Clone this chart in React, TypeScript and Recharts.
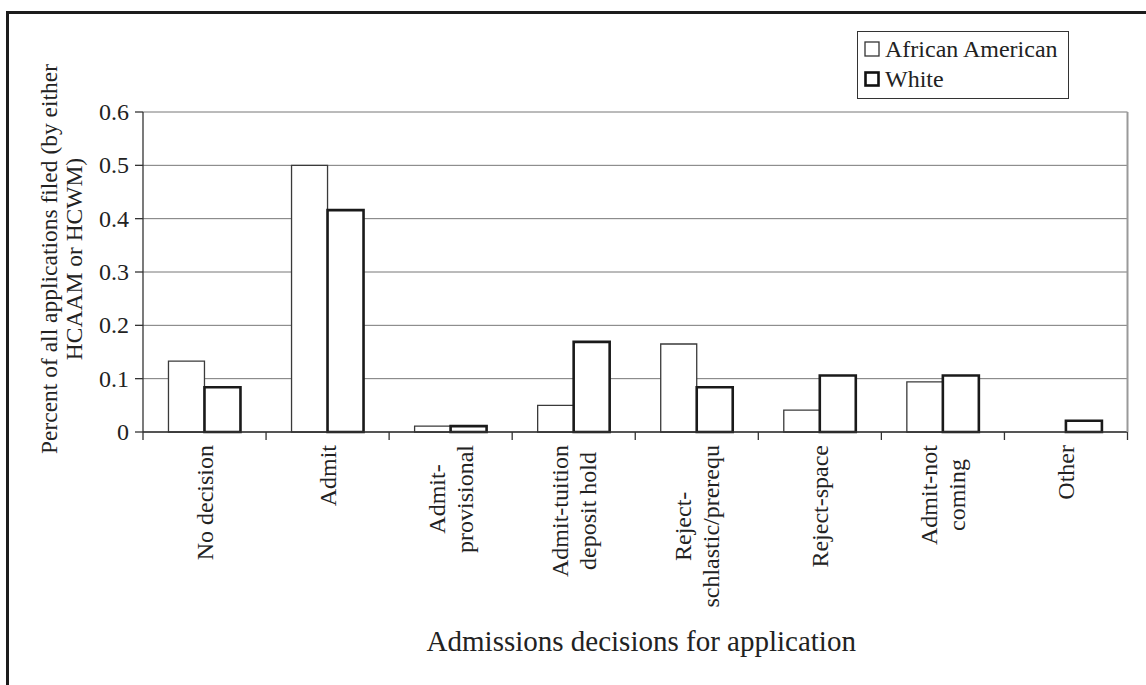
import React from 'react';
import { BarChart, Bar, XAxis, YAxis, CartesianGrid, Legend } from 'recharts';

// decision categories ("\n" = line break in the tick label)
const categories = [
  'No decision',
  'Admit',
  'Admit-\nprovisional',
  'Admit-tuition\ndeposit hold',
  'Reject-\nschlastic/prerequ',
  'Reject-space',
  'Admit-not\ncoming',
  'Other',
];
const africanAmerican = [0.133, 0.5, 0.011, 0.05, 0.165, 0.041, 0.094, 0];
const white = [0.084, 0.416, 0.011, 0.169, 0.084, 0.106, 0.106, 0.021];
const yTicks = [0, 0.1, 0.2, 0.3, 0.4, 0.5, 0.6];
const yTitle = ['Percent of all applications filed (by either', 'HCAAM or HCWM)'];
const xTitle = 'Admissions decisions for application';

const FONT = '"Liberation Serif", "Times New Roman", serif';
const INK = '#222';

const data = categories.map((name, i) => ({
  name,
  aa: africanAmerican[i],
  white: white[i],
}));

let ctx: CanvasRenderingContext2D | null = null;
const textWidth = (s: string, size: number) => {
  if (!ctx) ctx = document.createElement('canvas').getContext('2d');
  if (!ctx) return s.length * size * 0.45;
  ctx.font = `${size}px ${FONT}`;
  return ctx.measureText(s).width;
};

const serif = (size: number) => ({ fontFamily: FONT, fontSize: size });

// rotated, centred multi-line label with a tick mark at each category boundary
const CategoryTick = (props: any) => {
  const { x, y, payload, index, visibleTicksCount } = props;
  const half = payload.offset || 61.5;
  const lines: string[] = String(payload.value).split('\n');
  const size = 24;
  const lh = 28;
  const maxW = Math.max(...lines.map((l) => textWidth(l, size)));
  const cy = y + 13 + maxW / 2;
  const last = index === (visibleTicksCount ?? categories.length) - 1;
  return (
    <g>
      <line x1={x - half} x2={x - half} y1={y} y2={y + 8} stroke="#333" strokeWidth={1.3} />
      {last && <line x1={x + half} x2={x + half} y1={y} y2={y + 8} stroke="#333" strokeWidth={1.3} />}
      {lines.map((l, i) => {
        const bx = x + (i - (lines.length - 1) / 2) * lh + 8;
        return (
          <text
            key={i}
            x={bx}
            y={cy}
            transform={`rotate(-90, ${bx}, ${cy})`}
            textAnchor="middle"
            style={serif(size)}
            fill={INK}
          >
            {l}
          </text>
        );
      })}
    </g>
  );
};

const YTick = (props: any) => {
  const { x, y, payload } = props;
  const v = Number(payload.value);
  return (
    <text x={x} y={y + 8} textAnchor="end" style={serif(24)} fill={INK}>
      {v === 0 ? '0' : v.toFixed(1)}
    </text>
  );
};

const YTitle = () => {
  const cy = 259;
  return (
    <g>
      {yTitle.map((l, i) => {
        const bx = 57 + i * 25;
        return (
          <text
            key={i}
            x={bx}
            y={cy}
            transform={`rotate(-90, ${bx}, ${cy})`}
            textAnchor="middle"
            style={serif(23.5)}
            fill={INK}
          >
            {l}
          </text>
        );
      })}
    </g>
  );
};

const XTitle = (props: any) => {
  const vb = props.viewBox || { x: 143, width: 984 };
  return (
    <text x={vb.x + vb.width / 2 + 6} y={651} textAnchor="middle" style={serif(29)} fill={INK}>
      {xTitle}
    </text>
  );
};

const LegendBox = () => (
  <div
    style={{
      border: '1px solid #333',
      background: '#fff',
      padding: '2px 8px 4px 6px',
      fontFamily: FONT,
      fontSize: 24,
      color: INK,
      lineHeight: '30px',
    }}
  >
    <div style={{ display: 'flex', alignItems: 'center' }}>
      <svg width={16} height={16} style={{ marginRight: 5 }}>
        <rect x={1} y={1} width={14} height={14} fill="#fff" stroke="#333" strokeWidth={1.3} />
      </svg>
      African American
    </div>
    <div style={{ display: 'flex', alignItems: 'center' }}>
      <svg width={16} height={16} style={{ marginRight: 5 }}>
        <rect x={1.5} y={1.5} width={13} height={13} fill="#fff" stroke="#111" strokeWidth={2.6} />
      </svg>
      White
    </div>
  </div>
);

export default function App() {
  return (
    <div
      style={{
        position: 'absolute',
        left: 0,
        top: 0,
        width: 1146,
        height: 685,
        overflow: 'hidden',
        background: '#fff',
        fontFamily: FONT,
      }}
    >
      <div
        style={{
          position: 'absolute',
          left: 6,
          top: 11,
          width: 1300,
          height: 900,
          border: '3px solid #1c1c1c',
        }}
      />
      <div style={{ position: 'absolute', left: 0, top: 0 }}>
        <BarChart
          width={1146}
          height={685}
          data={data}
          margin={{ top: 112, right: 17.5, bottom: 0, left: 83 }}
          barCategoryGap="20.7%"
          barGap={0}
          style={{ fontFamily: FONT }}
        >
          <CartesianGrid vertical={false} stroke="#777" strokeWidth={1} />
          <XAxis
            dataKey="name"
            height={253}
            interval={0}
            tickLine={false}
            tickSize={0}
            tickMargin={0}
            axisLine={{ stroke: '#333', strokeWidth: 1.3 }}
            tick={<CategoryTick />}
            label={{ content: <XTitle /> }}
          />
          <YAxis
            width={60}
            domain={[0, 0.6]}
            ticks={yTicks}
            interval={0}
            tickSize={8}
            tickMargin={6}
            tick={<YTick />}
            tickLine={{ stroke: '#333', strokeWidth: 1.3 }}
            axisLine={{ stroke: '#333', strokeWidth: 1.3 }}
            label={{ content: <YTitle /> }}
          />
          <YAxis
            yAxisId="frame"
            orientation="right"
            width={1}
            domain={[0, 0.6]}
            tick={false}
            tickLine={false}
            axisLine={{ stroke: '#999', strokeWidth: 2 }}
          />
          <Legend
            layout="vertical"
            align="center"
            verticalAlign="middle"
            wrapperStyle={{ left: 857, top: 31, width: 212 }}
            content={<LegendBox />}
          />
          <Bar dataKey="aa" name="African American" fill="#fff" stroke="#3a3a3a" strokeWidth={1.3} isAnimationActive={false} />
          <Bar dataKey="white" name="White" fill="#fff" stroke="#1a1a1a" strokeWidth={2.6} isAnimationActive={false} />
        </BarChart>
      </div>
    </div>
  );
}
